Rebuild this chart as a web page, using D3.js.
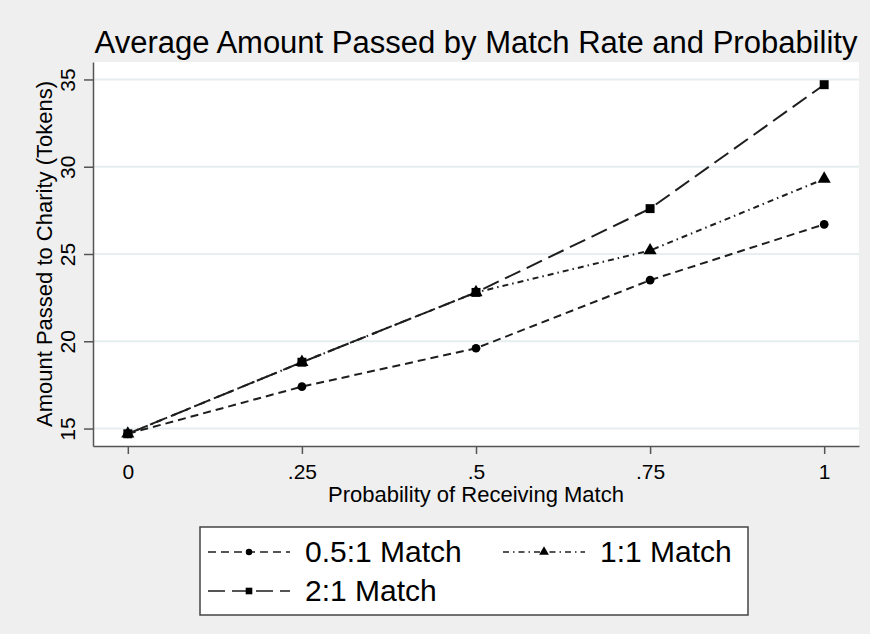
<!DOCTYPE html>
<html>
<head>
<meta charset="utf-8">
<script src="https://cdn.jsdelivr.net/npm/d3@7/dist/d3.min.js"></script>
<style>
  html, body { margin: 0; padding: 0; background: #efefef; }
  svg { display: block; }
  text { font-family: "Liberation Sans", Arial, sans-serif; fill: #000; }
</style>
</head>
<body>
<svg id="chart" width="870" height="634"></svg>
<script>
// ---- data ----
const probabilities = [0, 0.25, 0.5, 0.75, 1];
const seriesNames = ["0.5:1 Match", "1:1 Match", "2:1 Match"];
const halfMatch = [14.7, 17.4, 19.6, 23.5, 26.7];
const oneMatch = [14.7, 18.8, 22.8, 25.2, 29.3];
const twoMatch = [14.7, 18.8, 22.8, 27.6, 34.7];
const xTickValues = [0, 0.25, 0.5, 0.75, 1];
const xTickLabels = ["0", ".25", ".5", ".75", "1"];
const yTickValues = [15, 20, 25, 30, 35];
const titleText = "Average Amount Passed by Match Rate and Probability";
const xTitle = "Probability of Receiving Match";
const yTitle = "Amount Passed to Charity (Tokens)";

const W = 870, H = 634;
const plot = { left: 93, right: 859, top: 62, bottom: 446 };
const svg = d3.select("#chart");

svg.append("rect").attr("x", 0).attr("y", 0).attr("width", W).attr("height", H).attr("fill", "#efefef");
svg.append("rect").attr("x", plot.left).attr("y", plot.top)
  .attr("width", plot.right - plot.left).attr("height", plot.bottom - plot.top).attr("fill", "#ffffff");

const x = d3.scaleLinear().domain([-0.05, 1.05]).range([plot.left, plot.right]);
const y = d3.scaleLinear().domain([14, 36]).range([plot.bottom, plot.top]);

// gridlines
svg.append("g").selectAll("line").data(yTickValues).join("line")
  .attr("x1", plot.left).attr("x2", plot.right)
  .attr("y1", d => y(d)).attr("y2", d => y(d))
  .attr("stroke", "#e6eeef").attr("stroke-width", 2);

// axes
const xAxis = d3.axisBottom(x).tickValues(xTickValues)
  .tickFormat((d, i) => xTickLabels[i]).tickSize(8).tickSizeOuter(0);
const gx = svg.append("g").attr("transform", `translate(0,${plot.bottom})`).call(xAxis);
gx.select(".domain").attr("stroke", "#555").attr("stroke-width", 1.5);
gx.selectAll(".tick line").attr("stroke", "#555").attr("stroke-width", 1.5);
gx.selectAll(".tick text").attr("font-size", 21).attr("fill", "#000")
  .attr("font-family", "Liberation Sans, Arial, sans-serif").attr("dy", null).attr("y", 33);

const yAxis = d3.axisLeft(y).tickValues(yTickValues).tickSize(9).tickSizeOuter(0);
const gy = svg.append("g").attr("transform", `translate(${plot.left},0)`).call(yAxis);
gy.select(".domain").attr("stroke", "#555").attr("stroke-width", 1.5);
gy.selectAll(".tick line").attr("stroke", "#555").attr("stroke-width", 1.5);
gy.selectAll(".tick text").attr("font-size", 21).attr("fill", "#000")
  .attr("font-family", "Liberation Sans, Arial, sans-serif")
  .attr("x", null).attr("dy", null)
  .attr("text-anchor", "middle")
  .attr("transform", "translate(-18,0) rotate(-90)");

// titles
svg.append("text").attr("x", (plot.left + plot.right) / 2).attr("y", 53)
  .attr("text-anchor", "middle").attr("font-size", 31).text(titleText);
svg.append("text").attr("x", (plot.left + plot.right) / 2).attr("y", 502)
  .attr("text-anchor", "middle").attr("font-size", 22).text(xTitle);
svg.append("text").attr("transform", `translate(52,${(plot.top + plot.bottom) / 2}) rotate(-90)`)
  .attr("text-anchor", "middle").attr("font-size", 22).text(yTitle);

// series
const series = [
  { name: seriesNames[0], values: halfMatch, dash: "8,5", marker: "circle" },
  { name: seriesNames[1], values: oneMatch, dash: "6,4,1.5,4", marker: "triangle" },
  { name: seriesNames[2], values: twoMatch, dash: "17,7", marker: "square" }
];
const lineGen = d3.line().x(d => x(d[0])).y(d => y(d[1]));
const symbolType = { circle: d3.symbolCircle, triangle: d3.symbolTriangle, square: d3.symbolSquare };
const symbolSize = { circle: 60, triangle: 75, square: 80 };

// draw order: 2:1 first, then 1:1, then 0.5:1
[series[2], series[1], series[0]].forEach(s => {
  const pts = probabilities.map((p, i) => [p, s.values[i]]);
  svg.append("path").datum(pts).attr("d", lineGen)
    .attr("fill", "none").attr("stroke", "#1e1e1e").attr("stroke-width", 2)
    .attr("stroke-dasharray", s.dash);
  svg.append("g").selectAll("path").data(pts).join("path")
    .attr("transform", d => `translate(${x(d[0])},${y(d[1])})`)
    .attr("d", d3.symbol().type(symbolType[s.marker]).size(symbolSize[s.marker]))
    .attr("fill", "#000");
});

// legend
const leg = svg.append("g");
leg.append("rect").attr("x", 200).attr("y", 527).attr("width", 548).attr("height", 88)
  .attr("fill", "#fff").attr("stroke", "#444").attr("stroke-width", 1.5);
const legPos = [
  { x0: 208, y0: 552 },
  { x0: 503, y0: 552 },
  { x0: 208, y0: 591 }
];
series.forEach((s, i) => {
  const p = legPos[i];
  leg.append("line").attr("x1", p.x0).attr("x2", p.x0 + 82).attr("y1", p.y0).attr("y2", p.y0)
    .attr("stroke", "#1e1e1e").attr("stroke-width", 1.5).attr("stroke-dasharray", s.dash);
  leg.append("path").attr("transform", `translate(${p.x0 + 41},${p.y0})`)
    .attr("d", d3.symbol().type(symbolType[s.marker]).size(symbolSize[s.marker] * 0.55))
    .attr("fill", "#000");
  leg.append("text").attr("x", p.x0 + 97).attr("y", p.y0 + 10).attr("font-size", 30).text(s.name);
});
</script>
</body>
</html>
